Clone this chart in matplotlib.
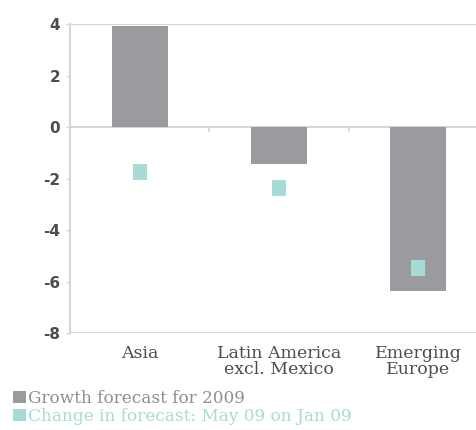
import matplotlib.pyplot as plt
from matplotlib.patches import Patch

regions = ['Asia', 'Latin America\nexcl. Mexico', 'Emerging\nEurope']
growth_2009 = [3.95, -1.45, -6.38]
forecast_change = [-1.73, -2.36, -5.48]
yticks = [-8, -6, -4, -2, 0, 2, 4]

bar_color = '#9b9b9f'
teal = '#a7dbd6'
text_color = '#4d4d51'
line_color = '#d6d6d6'

fig = plt.figure(figsize=(4.77, 4.30), dpi=100)
ax = fig.add_axes([0.1468, 0.2256, 0.876, 0.718])

x = list(range(len(regions)))
ax.bar(x, growth_2009, width=0.4, color=bar_color, zorder=2)

# tall narrow rectangle marker
rect = [(-0.41, -0.5), (0.41, -0.5), (0.41, 0.5), (-0.41, 0.5), (-0.41, -0.5)]
ax.plot(x, forecast_change, linestyle='none', marker=rect, markersize=11.5,
        color=teal, markeredgewidth=0, zorder=3)

ax.set_xlim(-0.5, 2.5)
ax.set_ylim(-8, 4)
ax.set_yticks(yticks)
ax.set_yticklabels([str(v) for v in yticks], fontfamily='DejaVu Sans',
                   fontweight='bold', fontsize=11, color=text_color)
ax.set_xticks(x)
ax.set_xticklabels(regions, fontfamily='DejaVu Serif', fontsize=12.5,
                   color=text_color, linespacing=0.9)
ax.tick_params(axis='x', length=0, pad=9)
ax.tick_params(axis='y', length=3, width=1, color=line_color, pad=4)

for s in ['top', 'right', 'bottom']:
    ax.spines[s].set_visible(False)
ax.spines['left'].set_color(line_color)
ax.spines['left'].set_linewidth(1.5)

for v in [4, 0, -8]:
    ax.axhline(v, color=line_color, linewidth=1.5, zorder=1)
# small separators under the zero line
for sep in [0.5, 1.5]:
    ax.plot([sep, sep], [0, -0.13], color=line_color, linewidth=1.2, zorder=1)

handles = [Patch(facecolor=bar_color, edgecolor='none'),
           Patch(facecolor=teal, edgecolor='none')]
leg = fig.legend(handles, ['Growth forecast for 2009',
                           'Change in forecast: May 09 on Jan 09'],
                 loc='lower left', bbox_to_anchor=(0.006, -0.012), frameon=False,
                 prop={'family': 'DejaVu Serif', 'size': 12.2},
                 handlelength=0.75, handleheight=0.75, handletextpad=0.15,
                 labelspacing=0.08, borderaxespad=0.2)
for t, c in zip(leg.get_texts(), ['#8e8e92', teal]):
    t.set_color(c)

fig.savefig('out.png', dpi=100, facecolor='white')
